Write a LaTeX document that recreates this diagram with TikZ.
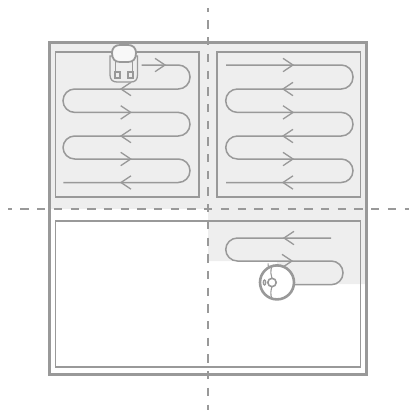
\documentclass[tikz,border=0pt]{standalone}
\usepackage{tikz}
\definecolor{wallgray}{HTML}{999999}
\definecolor{sweptgray}{HTML}{EEEEEE}
\tikzset{
  wall/.style={draw=wallgray, line width=3pt},
  room/.style={draw=wallgray, line width=1.6pt},
  divider/.style={draw=wallgray, line width=2pt, dash pattern=on 8.3pt off 8.4pt, dash phase=4.3pt},
  sweep/.style={draw=wallgray, line width=1.5pt, rounded corners=11.7pt},
  chevron/.pic={\draw[wallgray, line width=1.3pt] (-10,-6.7) -- (0,0) -- (-10,6.7);},
  robot/.style={draw=wallgray, fill=white, line width=1.3pt},
  robotline/.style={wallgray, line width=1.1pt},
}
\begin{document}
\begin{tikzpicture}[x=1pt, y=-1pt]
  \useasboundingbox (0,0) rectangle (409,410);

  % swept floor
  \fill[sweptgray] (49,42) rectangle (366,209);
  \fill[sweptgray] (208,209) -- (366,209) -- (366,284) -- (277,284) -- (277,261) -- (208,261) -- cycle;

  % rooms
  \draw[room] (55.5,52) rectangle (199,197);
  \draw[room] (217,52) rectangle (360.5,197);
  \draw[room] (55.5,221) rectangle (360.5,367);

  % dividers
  \draw[divider] (8,209) -- (409,209);
  \draw[divider] (208,8) -- (208,410);

  % outer wall
  \draw[wall] (49.5,42.5) rectangle (366,374);

  % left room path
  \draw[sweep] (141.7,65) -- (190,65) -- (190,89) -- (63,89) -- (63,112.4)
    -- (190,112.4) -- (190,136) -- (63,136) -- (63,159) -- (190,159)
    -- (190,182.5) -- (63.3,182.5);

  % right room path
  \draw[sweep] (226,65) -- (353,65) -- (353,89) -- (225.7,89) -- (225.7,112.4)
    -- (353,112.4) -- (353,136) -- (225.7,136) -- (225.7,159) -- (353,159)
    -- (353,182.5) -- (226,182.5);

  % bottom room path
  \draw[sweep] (331,238) -- (225.7,238) -- (225.7,261) -- (343,261) -- (343,284.7)
    -- (290,284.7);

  % direction marks
  \foreach \px/\py in {165/65, 130.7/112.4, 130.7/159, 293/65, 293/112.4, 293/159, 292/261}
    \pic at (\px,\py) {chevron};
  \foreach \px/\py in {121/89, 121/136, 121/182.5, 283/89, 283/136, 283/182.5, 284/238}
    \pic[xscale=-1] at (\px,\py) {chevron};

  % upright robot
  \draw[draw=wallgray, fill=sweptgray, line width=1.3pt] (110,56) -- (110,75) .. controls (110,80) and (113,82) .. (117,82)
    -- (131,82) .. controls (135,82) and (137.5,80) .. (137.5,75) -- (137.5,56) -- cycle;
  \draw[draw=wallgray, fill=white!60!sweptgray, line width=1.8pt] (120,45) -- (128,45)
    .. controls (133,45) and (136,48) .. (136,53)
    .. controls (136,59) and (133,62) .. (128,62) -- (120,62)
    .. controls (115,62) and (112,59) .. (112,53)
    .. controls (112,48) and (115,45) .. (120,45) -- cycle;
  \draw[robotline] (115.5,60) -- (115.5,72) (132.7,60) -- (132.7,72);
  \draw[wallgray, line width=1.2pt] (115,72) rectangle (120,78);
  \draw[wallgray, line width=1.2pt] (128,72) rectangle (133,78);

  % round robot
  \draw[robot, line width=2.6pt] (277,282.4) circle[radius=17];
  \draw[robotline] (272,265.5) .. controls (270,272) and (271,275) .. (272,278.5);
  \draw[robotline] (272,286.5) .. controls (271,290) and (270,294) .. (272,299);
  \draw[robotline] (268,263.5) -- (268.5,268);
  \draw[robot, line width=1.6pt] (272,282.5) circle[radius=4.2];
  \draw[wallgray, line width=1.3pt] (264.5,282.5) ellipse[x radius=1.2, y radius=2.5];
\end{tikzpicture}
\end{document}
